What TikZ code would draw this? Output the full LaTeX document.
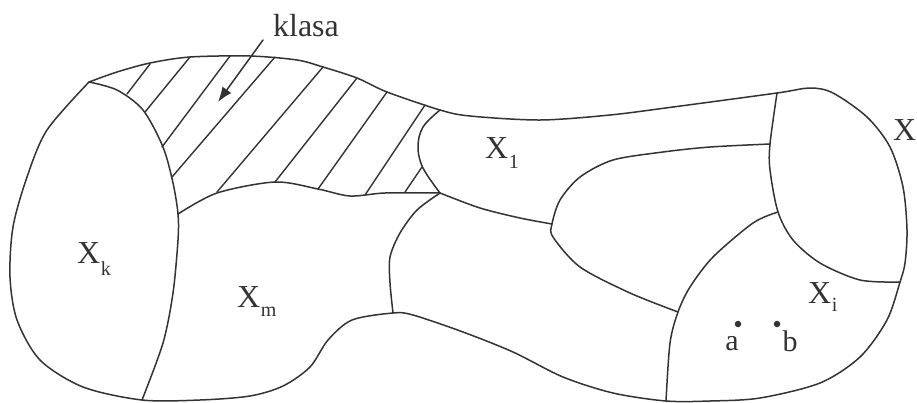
\documentclass[tikz,border=0pt]{standalone}
\usepackage{fontspec}
\setmainfont{Liberation Serif}
\usetikzlibrary{arrows.meta}
\definecolor{ink}{HTML}{333333}
\newcommand\Xs[2][10pt]{X\kern0.5pt\raisebox{-#1}{\fontsize{20}{20}\selectfont #2}}
\begin{document}
\begin{tikzpicture}[x=1pt,y=-1pt,
  edge/.style={draw=ink, line width=1.5pt, line join=round, line cap=round},
  hatch/.style={draw=ink, line width=1.4pt, line cap=round},
  lbl/.style={text=ink, font=\fontsize{32}{32}\selectfont, inner sep=0pt, anchor=base west},
  dot/.style={circle, fill=ink, inner sep=0pt, minimum size=6.5pt}]
\useasboundingbox (0,0) rectangle (917,402);
% junctions
\coordinate (A) at (89,82);
\coordinate (B) at (142,400);
\coordinate (C) at (178,214);
\coordinate (D) at (440,193);
\coordinate (E) at (440,110);
\coordinate (F) at (393,313);
\coordinate (G) at (552,224);
\coordinate (H) at (678,312);
\coordinate (I) at (666,401);
\coordinate (J) at (777,93);
\coordinate (K) at (770,144);
\coordinate (L) at (778,212);
\coordinate (M) at (900,282);
% outer boundary (corner at A)
\draw[edge] plot[smooth, tension=0.5] coordinates {
  (A) (117,72) (150,63) (190,57) (250,56) (297,60) (323,67) (357,78) (387,92)
  (E) (470,116) (540,120) (610,115) (673,107) (J) (810,88) (833,93) (867,117)
  (890,147) (903,187) (907,230) (905,263) (M) (887,320) (860,357) (820,383)
  (760,398) (710,401) (I) (613,393) (563,377) (513,352) (463,332) (413,315)
  (F) (352,320) (328,340) (310,367) (283,386) (250,396) (200,400) (B)
  (83,387) (40,360) (17,320) (10,277) (13,227) (27,177) (47,130) (A)};
% inner borders
\draw[edge] plot[smooth, tension=0.5] coordinates {(A) (117,90) (143,110) (163,147) (173,183) (C) (178,240) (173,293) (163,343) (B)};
\draw[edge] plot[smooth, tension=0.5] coordinates {(C) (217,193) (275,182) (318,189) (350,196) (385,193) (D)};
\draw[edge] plot[smooth, tension=0.6] coordinates {(E) (423,127) (418,147) (423,168) (D)};
\draw[edge] plot[smooth, tension=0.5] coordinates {(D) (417,210) (400,233) (390,257) (390,283) (F)};
\draw[edge] plot[smooth, tension=0.5] coordinates {(D) (480,208) (520,218) (G)};
\draw[edge] plot[smooth, tension=0.5] coordinates {(K) (710,147) (663,152) (613,160) (580,177) (560,200) (G) (553,237) (580,267) (630,293) (H)};
\draw[edge] plot[smooth, tension=0.5] coordinates {(L) (753,223) (713,257) (690,287) (H) (670,343) (I)};
\draw[edge] plot[smooth, tension=0.5] coordinates {(J) (K) (770,170) (L) (793,240) (820,263) (860,280) (M)};
% hatching
\draw[hatch] (127,94) -- (150,64);
\draw[hatch] (145,112) -- (190,57);
\draw[hatch] (162,147) -- (230,56);
\draw[hatch] (172,177) -- (275,57);
\draw[hatch] (217,192) -- (323,67);
\draw[hatch] (275,182) -- (357,78);
\draw[hatch] (318,189) -- (387,92);
\draw[hatch] (365,195) -- (425,105);
\draw[hatch] (405,192) -- (422,167);
% labels
\node[lbl, anchor=base] (klasa) at (306,36) {klasa};
\coordinate (ks) at (263,40);
\coordinate (kt) at (218,102);
\draw[edge, -{Latex[length=15pt,width=11pt]}] (ks) -- (kt);
\node[lbl] (xk) at (77,263) {\Xs[12pt]{k}};
\node[lbl] (xm) at (237,307) {\Xs[9pt]{m}};
\node[lbl] (x1) at (485,158) {\Xs[10pt]{1}};
\node[lbl] (xi) at (808,303) {\Xs[8pt]{i}};
\node[lbl] (xx) at (893,140) {X};
\node[dot] (pa) at (738,324) {};
\node[dot] (pb) at (777,324) {};
\node[lbl, anchor=base, font=\fontsize{30}{30}\selectfont] (la) at (732,350) {a};
\node[lbl, anchor=base, font=\fontsize{30}{30}\selectfont] (lb) at (790,351) {b};
\end{tikzpicture}
\end{document}
